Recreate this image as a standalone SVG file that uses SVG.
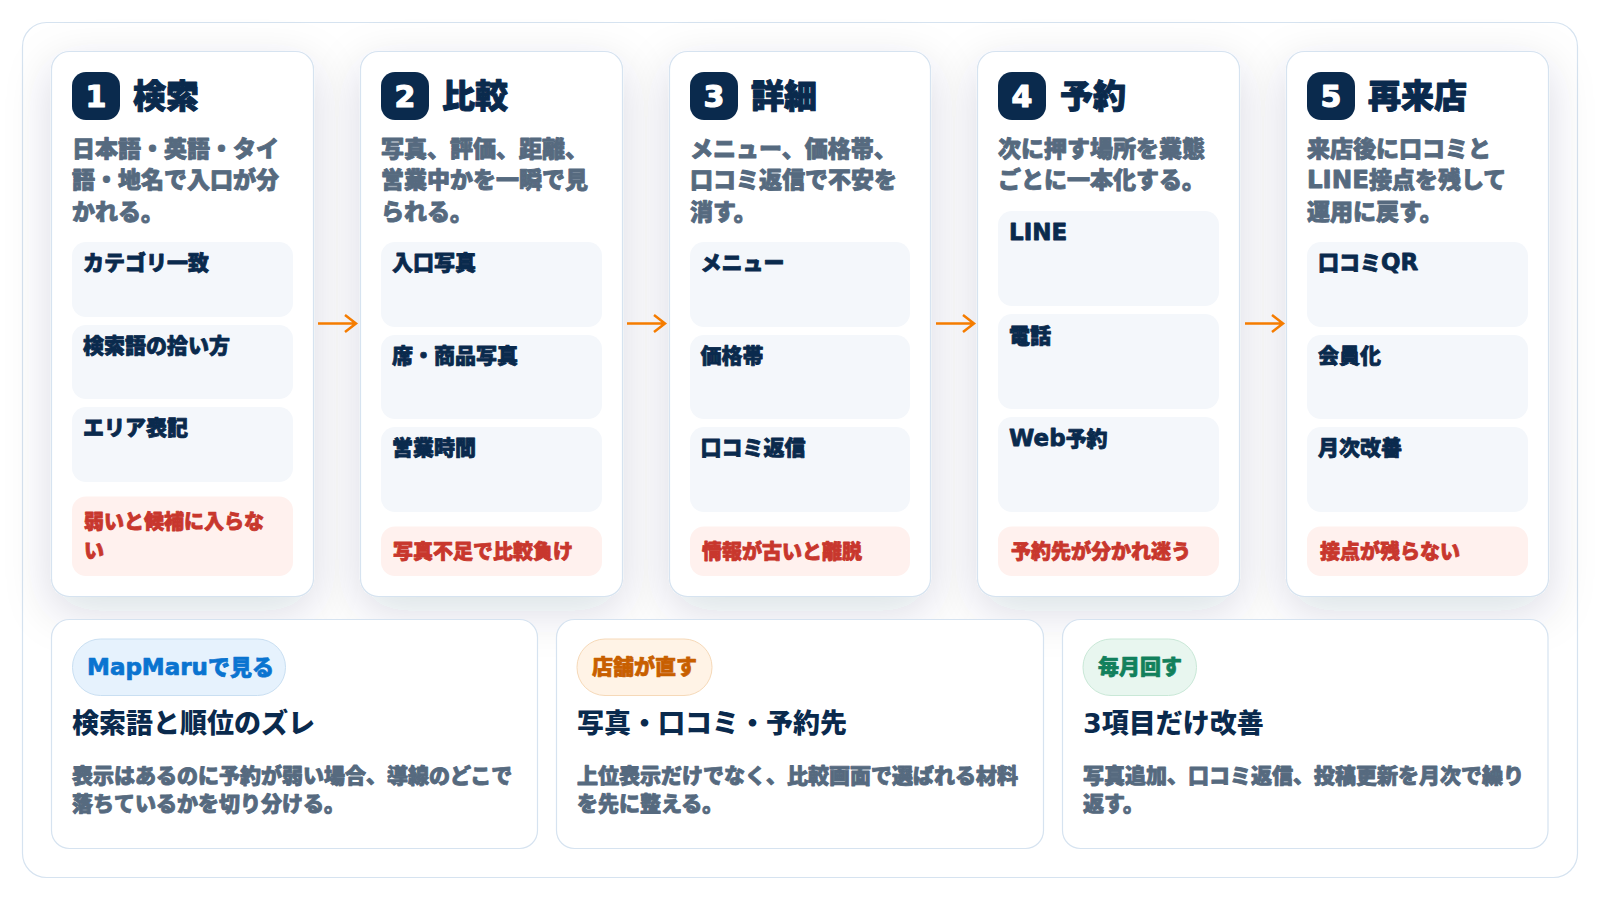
<svg xmlns="http://www.w3.org/2000/svg" width="1600" height="900" viewBox="0 0 1600 900">
<style>
text{font-family:"DejaVu Sans","Noto Sans CJK JP",sans-serif;font-weight:900;stroke-linejoin:round}
.card{fill:#fff;stroke:#d6e3f0;stroke-width:1.2}
.num{fill:#0a2a4d}
.n{fill:#fff;stroke:#fff;stroke-width:1.2;font-size:30px;text-anchor:middle}
.t{fill:#0a2a4d;stroke:#0a2a4d;stroke-width:1;font-size:33px}
.d{fill:#566a7f;stroke:#566a7f;stroke-width:.9;font-size:23px}
.item{fill:#f4f7fb}
.il{fill:#0a2a4d;stroke:#0a2a4d;stroke-width:.8;font-size:21px}
.il tspan{font-size:23px}
.al{fill:#fff1ee}
.at{fill:#c8372d;stroke:#c8372d;stroke-width:.8;font-size:20px}
.h{fill:#0a2a4d;font-size:27px;font-weight:800}
.b{fill:#566a7f;stroke:#566a7f;stroke-width:.9;font-size:21px}
.a{fill:none;stroke:#f57c00;stroke-width:2.5}
.bt{stroke-width:.7;font-size:21px}
</style>
<defs><filter id="s" x="-40%" y="-25%" width="180%" height="150%"><feDropShadow dx="0" dy="14" stdDeviation="23" flood-color="#0a2a4d" flood-opacity=".15"/></filter></defs>
<rect id="frame" x="22.500" y="22.500" width="1555" height="855" rx="24" fill="#fff" stroke="#d6e3f0" stroke-width="1.2"/>
<g id="step1"><rect class="card" filter="url(#s)" x="51.500" y="51.500" width="262" height="545" rx="18"/><rect class="num" x="72" y="72" width="48" height="48" rx="14"/><text class="n" x="96" y="107">1</text><text class="t" x="133" y="108">検索</text>
<text class="d" x="72" y="157">日本語・英語・タイ</text><text class="d" x="72" y="188">語・地名で入口が分</text><text class="d" x="72" y="220">かれる。</text>
<rect class="item" x="72" y="242" width="221" height="75" rx="14"/><text class="il" x="83" y="270">カテゴリ一致</text>
<rect class="item" x="72" y="325" width="221" height="74" rx="14"/><text class="il" x="83" y="353">検索語の拾い方</text>
<rect class="item" x="72" y="407" width="221" height="75" rx="14"/><text class="il" x="83" y="435">エリア表記</text>
<rect class="al" x="72" y="496.500" width="221" height="79.500" rx="14"/><text class="at" x="84" y="529">弱いと候補に入らな</text><text class="at" x="84" y="558">い</text></g>
<g id="step2"><rect class="card" filter="url(#s)" x="360.500" y="51.500" width="262" height="545" rx="18"/><rect class="num" x="381" y="72" width="48" height="48" rx="14"/><text class="n" x="405" y="107">2</text><text class="t" x="442" y="108">比較</text>
<text class="d" x="381" y="157">写真、評価、距離、</text><text class="d" x="381" y="188">営業中かを一瞬で見</text><text class="d" x="381" y="220">られる。</text>
<rect class="item" x="381" y="242" width="221" height="85" rx="14"/><text class="il" x="392" y="270">入口写真</text>
<rect class="item" x="381" y="335" width="221" height="84" rx="14"/><text class="il" x="392" y="363">席・商品写真</text>
<rect class="item" x="381" y="427" width="221" height="85" rx="14"/><text class="il" x="392" y="455">営業時間</text>
<rect class="al" x="381" y="526.500" width="221" height="49.500" rx="14"/><text class="at" x="393" y="559">写真不足で比較負け</text></g>
<g id="step3"><rect class="card" filter="url(#s)" x="669.500" y="51.500" width="261" height="545" rx="18"/><rect class="num" x="690" y="72" width="48" height="48" rx="14"/><text class="n" x="714" y="107">3</text><text class="t" x="751" y="108">詳細</text>
<text class="d" x="690" y="157">メニュー、価格帯、</text><text class="d" x="690" y="188">口コミ返信で不安を</text><text class="d" x="690" y="220">消す。</text>
<rect class="item" x="690" y="242" width="220" height="85" rx="14"/><text class="il" x="700.500" y="270">メニュー</text>
<rect class="item" x="690" y="335" width="220" height="84" rx="14"/><text class="il" x="700.500" y="363">価格帯</text>
<rect class="item" x="690" y="427" width="220" height="85" rx="14"/><text class="il" x="700.500" y="455">口コミ返信</text>
<rect class="al" x="690" y="526.500" width="220" height="49.500" rx="14"/><text class="at" x="702" y="559">情報が古いと離脱</text></g>
<g id="step4"><rect class="card" filter="url(#s)" x="977.500" y="51.500" width="262" height="545" rx="18"/><rect class="num" x="998" y="72" width="48" height="48" rx="14"/><text class="n" x="1022" y="107">4</text><text class="t" x="1060" y="108">予約</text>
<text class="d" x="998" y="157">次に押す場所を業態</text><text class="d" x="998" y="188">ごとに一本化する。</text>
<rect class="item" x="998" y="211" width="221" height="95" rx="14"/><text class="il" x="1009" y="240"><tspan>LINE</tspan></text>
<rect class="item" x="998" y="314" width="221" height="95" rx="14"/><text class="il" x="1009" y="343">電話</text>
<rect class="item" x="998" y="417" width="221" height="95" rx="14"/><text class="il" x="1009" y="446"><tspan>Web</tspan>予約</text>
<rect class="al" x="998" y="526.500" width="221" height="49.500" rx="14"/><text class="at" x="1011" y="559">予約先が分かれ迷う</text></g>
<g id="step5"><rect class="card" filter="url(#s)" x="1286.500" y="51.500" width="262" height="545" rx="18"/><rect class="num" x="1307" y="72" width="48" height="48" rx="14"/><text class="n" x="1331" y="107">5</text><text class="t" x="1368" y="108">再来店</text>
<text class="d" x="1307" y="157">来店後に口コミと</text><text class="d" x="1307" y="188"><tspan style="font-size:24.500px">LINE</tspan>接点を残して</text><text class="d" x="1307" y="220">運用に戻す。</text>
<rect class="item" x="1307" y="242" width="221" height="85" rx="14"/><text class="il" x="1318" y="270">口コミ<tspan>QR</tspan></text>
<rect class="item" x="1307" y="335" width="221" height="84" rx="14"/><text class="il" x="1318" y="363">会員化</text>
<rect class="item" x="1307" y="427" width="221" height="85" rx="14"/><text class="il" x="1318" y="455">月次改善</text>
<rect class="al" x="1307" y="526.500" width="221" height="49.500" rx="14"/><text class="at" x="1320" y="559">接点が残らない</text></g>
<g id="connectors">
<path class="a" d="M318 323.500H356M345 315l11 8.500-11 8.500"/>
<path class="a" d="M627 323.500H665M654 315l11 8.500-11 8.500"/>
<path class="a" d="M936 323.500H974M963 315l11 8.500-11 8.500"/>
<path class="a" d="M1245 323.500H1283M1272 315l11 8.500-11 8.500"/>
</g>
<g id="note1"><rect class="card" x="51.500" y="619.500" width="486" height="229" rx="18"/><rect x="72.500" y="639" width="213" height="56.500" rx="28" fill="#e6f2fd" stroke="#c9dff2"/><text class="bt" x="87" y="675" stroke="#0a74d0" fill="#0a74d0" style="font-size:22px"><tspan style="font-size:23px">MapMaru</tspan>で見る</text><text class="h" x="72" y="733">検索語と順位のズレ</text><text class="b" x="72" y="783">表示はあるのに予約が弱い場合、導線のどこで</text><text class="b" x="72" y="811">落ちているかを切り分ける。</text></g>
<g id="note2"><rect class="card" x="556.500" y="619.500" width="487" height="229" rx="18"/><rect x="577" y="639" width="135" height="56.500" rx="28" fill="#fff3e6" stroke="#f6d9b8"/><text class="bt" x="592" y="674" stroke="#c85f00" fill="#c85f00">店舗が直す</text><text class="h" x="577" y="733">写真・口コミ・予約先</text><text class="b" x="577" y="783">上位表示だけでなく、比較画面で選ばれる材料</text><text class="b" x="577" y="811">を先に整える。</text></g>
<g id="note3"><rect class="card" x="1062.500" y="619.500" width="485.500" height="229" rx="18"/><rect x="1083" y="639" width="113.500" height="56.500" rx="28" fill="#e8f6ef" stroke="#c9e8d7"/><text class="bt" x="1098" y="674" stroke="#12805c" fill="#12805c">毎月回す</text><text class="h" x="1083" y="733">3項目だけ改善</text><text class="b" x="1083" y="783">写真追加、口コミ返信、投稿更新を月次で繰り</text><text class="b" x="1083" y="811">返す。</text></g>
</svg>
